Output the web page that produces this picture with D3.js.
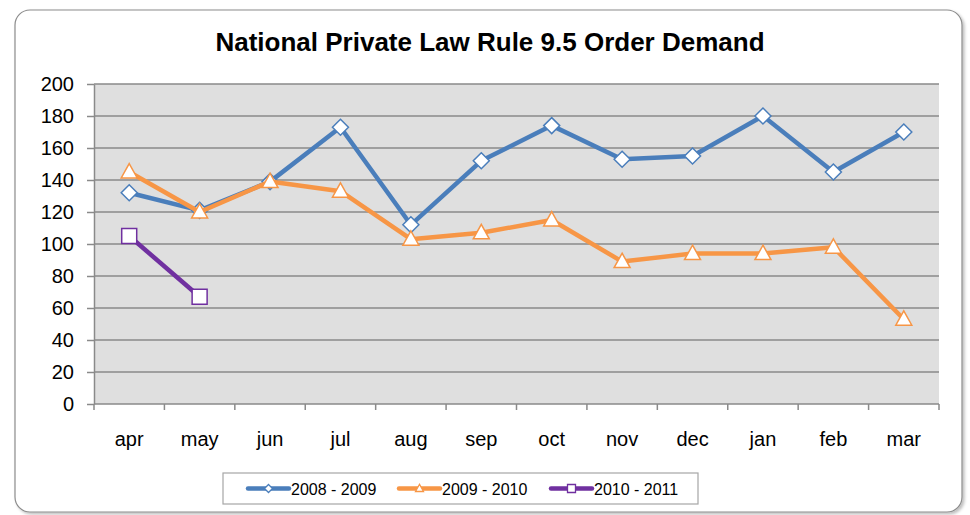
<!DOCTYPE html>
<html>
<head>
<meta charset="utf-8">
<script src="https://cdn.jsdelivr.net/npm/d3@7"></script>
<style>
  body { margin: 0; background: #fff; }
  svg { display: block; font-family: "Liberation Sans", Arial, sans-serif; }
</style>
</head>
<body>
<div id="chart"></div>
<script>
// data
var months = ["apr", "may", "jun", "jul", "aug", "sep", "oct", "nov", "dec", "jan", "feb", "mar"];
var s0809 = [132, 121, 139, 173, 112, 152, 174, 153, 155, 180, 145, 170];
var s0910 = [145, 120, 139, 133, 103, 107, 115, 89, 94, 94, 98, 53];
var s1011 = [105, 67];
var yTicks = [0, 20, 40, 60, 80, 100, 120, 140, 160, 180, 200];
var seriesNames = ["2008 - 2009", "2009 - 2010", "2010 - 2011"];

var series = [
  { name: seriesNames[0], values: s0809, color: "#4a7ebb", marker: "diamond" },
  { name: seriesNames[1], values: s0910, color: "#f79646", marker: "triangle" },
  { name: seriesNames[2], values: s1011, color: "#7030a0", marker: "square" }
];

var w = 970, h = 515;
var plot = { left: 94, right: 939, top: 84, bottom: 404 };

var svg = d3.select("#chart").append("svg")
  .attr("width", w)
  .attr("height", h);

var defs = svg.append("defs");
var f = defs.append("filter").attr("id", "shadow").attr("x", "-5%").attr("y", "-5%").attr("width", "110%").attr("height", "110%");
f.append("feDropShadow").attr("dx", 2).attr("dy", 2).attr("stdDeviation", 1.5).attr("flood-color", "#000").attr("flood-opacity", 0.25);

// chart frame
svg.append("rect")
  .attr("x", 15).attr("y", 10)
  .attr("width", 947).attr("height", 502)
  .attr("rx", 15).attr("ry", 15)
  .attr("fill", "#fff")
  .attr("stroke", "#8c8c8c")
  .attr("stroke-width", 1.2)
  .attr("filter", "url(#shadow)");

// title
svg.append("text")
  .attr("x", 490).attr("y", 51)
  .attr("text-anchor", "middle")
  .attr("font-size", 26)
  .attr("font-weight", "bold")
  .attr("fill", "#000")
  .text("National Private Law Rule 9.5 Order Demand");

var x = d3.scaleBand().domain(months).range([plot.left, plot.right]);
var y = d3.scaleLinear().domain([0, 200]).range([plot.bottom, plot.top]);

// plot area
svg.append("rect")
  .attr("x", plot.left).attr("y", plot.top)
  .attr("width", plot.right - plot.left).attr("height", plot.bottom - plot.top)
  .attr("fill", "#dfdfdf");

// gridlines
svg.append("g")
  .selectAll("line")
  .data(yTicks.filter(function(d) { return d > 0; }))
  .enter().append("line")
  .attr("x1", plot.left).attr("x2", plot.right)
  .attr("y1", function(d) { return y(d); })
  .attr("y2", function(d) { return y(d); })
  .attr("stroke", "#8a8a8a")
  .attr("stroke-width", 1.5);

// y axis
var yAxis = svg.append("g")
  .attr("transform", "translate(" + plot.left + ",0)")
  .call(d3.axisLeft(y).tickValues(yTicks).tickSize(7).tickPadding(13).tickSizeOuter(0));
yAxis.select(".domain").attr("stroke", "#8a8a8a").attr("stroke-width", 1.5);
yAxis.selectAll(".tick line").attr("stroke", "#8a8a8a").attr("stroke-width", 1.5);
yAxis.selectAll(".tick text")
  .attr("font-size", 20)
  .attr("font-family", "Liberation Sans, Arial, sans-serif")
  .attr("fill", "#000");

// x axis, ticks at category boundaries
var xg = svg.append("g");
xg.append("line")
  .attr("x1", plot.left).attr("x2", plot.right)
  .attr("y1", plot.bottom).attr("y2", plot.bottom)
  .attr("stroke", "#8a8a8a").attr("stroke-width", 1.5);
var bounds = months.map(function(m) { return x(m); }).concat([plot.right]);
xg.selectAll("line.tk")
  .data(bounds)
  .enter().append("line")
  .attr("class", "tk")
  .attr("x1", function(d) { return d; }).attr("x2", function(d) { return d; })
  .attr("y1", plot.bottom).attr("y2", plot.bottom + 6)
  .attr("stroke", "#8a8a8a").attr("stroke-width", 1.5);
xg.selectAll("text")
  .data(months)
  .enter().append("text")
  .attr("x", function(d) { return x(d) + x.bandwidth() / 2; })
  .attr("y", 446)
  .attr("text-anchor", "middle")
  .attr("font-size", 20)
  .attr("fill", "#000")
  .text(function(d) { return d; });

function markerPath(type, size) {
  var s = size;
  if (type == "diamond") return "M0," + (-s) + "L" + s + ",0L0," + s + "L" + (-s) + ",0Z";
  if (type == "triangle") return "M0," + (-s * 1.05) + "L" + (s * 1.0) + "," + (s * 0.75) + "L" + (-s * 1.0) + "," + (s * 0.75) + "Z";
  return "M" + (-s) + "," + (-s) + "H" + s + "V" + s + "H" + (-s) + "Z";
}
var markerSize = { diamond: 8, triangle: 8, square: 7.5 };

var line = d3.line()
  .x(function(d, i) { return x(months[i]) + x.bandwidth() / 2; })
  .y(function(d) { return y(d); });

series.forEach(function(s) {
  var g = svg.append("g");
  g.append("path")
    .attr("d", line(s.values))
    .attr("fill", "none")
    .attr("stroke", s.color)
    .attr("stroke-width", 4.5)
    .attr("stroke-linejoin", "round");
  g.selectAll("path.mk")
    .data(s.values)
    .enter().append("path")
    .attr("class", "mk")
    .attr("transform", function(d, i) {
      return "translate(" + (x(months[i]) + x.bandwidth() / 2) + "," + y(d) + ")";
    })
    .attr("d", markerPath(s.marker, markerSize[s.marker]))
    .attr("fill", "#fff")
    .attr("stroke", s.color)
    .attr("stroke-width", 1.5);
});

// legend
var legend = svg.append("g");
legend.append("rect")
  .attr("x", 223).attr("y", 473)
  .attr("width", 475).attr("height", 31)
  .attr("fill", "#fff")
  .attr("stroke", "#a6a6a6")
  .attr("stroke-width", 1.2);
var legX = [248, 399, 551];
series.forEach(function(s, i) {
  var lg = legend.append("g").attr("transform", "translate(" + legX[i] + ",488.5)");
  lg.append("line")
    .attr("x1", 0).attr("x2", 41)
    .attr("stroke", s.color).attr("stroke-width", 4.5)
    .attr("stroke-linecap", "round");
  lg.append("path")
    .attr("transform", "translate(20.5,0)")
    .attr("d", markerPath(s.marker, 4))
    .attr("fill", "#fff")
    .attr("stroke", s.color)
    .attr("stroke-width", 1.3);
  lg.append("text")
    .attr("x", 43).attr("y", 6)
    .attr("font-size", 16)
    .attr("fill", "#000")
    .text(s.name);
});
</script>
</body>
</html>
